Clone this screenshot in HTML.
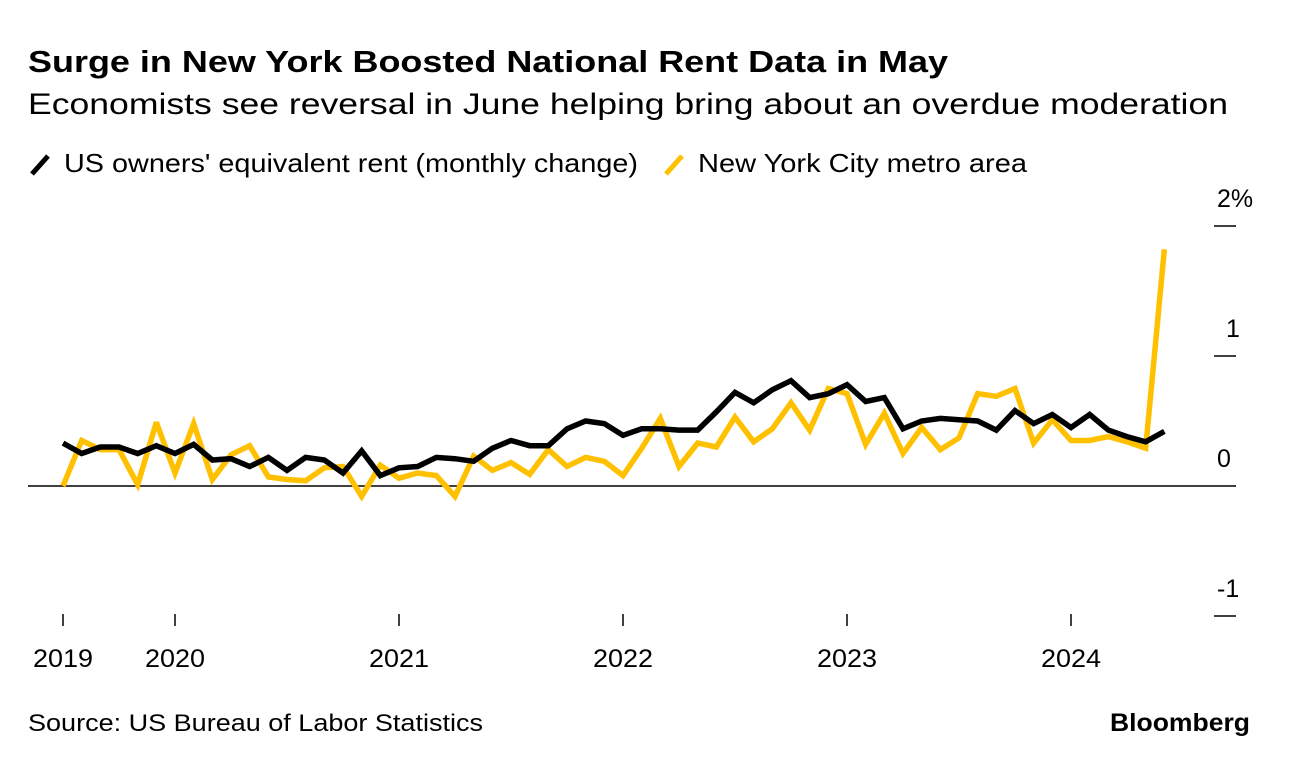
<!DOCTYPE html>
<html><head><meta charset="utf-8"><style>
body{margin:0;background:#fff;font-family:"Liberation Sans",sans-serif;}
svg text{font-family:"Liberation Sans",sans-serif;}
</style></head><body>
<svg width="1289" height="766" viewBox="0 0 1289 766">
<text x="28" y="72" font-size="31" font-weight="bold" fill="#000" textLength="920" lengthAdjust="spacingAndGlyphs">Surge in New York Boosted National Rent Data in May</text>
<text x="28" y="114" font-size="30" fill="#000" textLength="1200" lengthAdjust="spacingAndGlyphs">Economists see reversal in June helping bring about an overdue moderation</text>
<g>
<line x1="32" y1="174" x2="48" y2="156" stroke="#000" stroke-width="5"/>
<text x="64" y="172" font-size="26" textLength="574" lengthAdjust="spacingAndGlyphs">US owners' equivalent rent (monthly change)</text>
<line x1="666" y1="174" x2="682" y2="156" stroke="#ffc000" stroke-width="5"/>
<text x="698" y="172" font-size="26" textLength="329" lengthAdjust="spacingAndGlyphs">New York City metro area</text>
</g>
<g id="axes"></g>
<g id="series"></g>
<text x="28" y="731" font-size="24" textLength="455" lengthAdjust="spacingAndGlyphs">Source: US Bureau of Labor Statistics</text>
<text x="1250" y="731" font-size="25" font-weight="bold" text-anchor="end" textLength="140" lengthAdjust="spacingAndGlyphs">Bloomberg</text>
</svg>
<script>
const usOER=[0.33,0.25,0.30,0.30,0.25,0.31,0.25,0.32,0.20,0.21,0.15,0.22,0.12,0.22,0.20,0.10,0.27,0.08,0.14,0.15,0.22,0.21,0.19,0.29,0.35,0.31,0.31,0.44,0.50,0.48,0.39,0.44,0.44,0.43,0.43,0.57,0.72,0.64,0.74,0.81,0.68,0.71,0.78,0.65,0.68,0.44,0.50,0.52,0.51,0.50,0.43,0.58,0.48,0.55,0.45,0.55,0.43,0.38,0.34,0.42];
const nycMetro=[0.0,0.35,0.28,0.28,0.01,0.49,0.10,0.48,0.05,0.24,0.31,0.07,0.05,0.04,0.14,0.15,-0.08,0.16,0.06,0.10,0.08,-0.08,0.23,0.12,0.18,0.09,0.28,0.15,0.22,0.19,0.08,0.29,0.52,0.15,0.33,0.30,0.53,0.34,0.44,0.64,0.43,0.75,0.71,0.32,0.56,0.25,0.45,0.28,0.37,0.71,0.69,0.75,0.33,0.51,0.35,0.35,0.38,0.34,0.29,1.82];
const yTicks=[2,1,0,-1];
const yTickLabels=["2%","1","0","-1"];
const xTickIdx=[0,6,18,30,42,54];
const xTickLabels=["2019","2020","2021","2022","2023","2024"];
const NS="http://www.w3.org/2000/svg";
const xs=i=>63+i*(1072-176)/48;
const ys=v=>486-v*130;
const axes=document.getElementById('axes'),series=document.getElementById('series');
function mk(tag,attrs,parent){const e=document.createElementNS(NS,tag);for(const k in attrs)e.setAttribute(k,attrs[k]);parent.appendChild(e);return e;}
yTicks.forEach((v,i)=>{
 const t=mk('line',{x1:1214,x2:1236,y1:ys(v),y2:ys(v),stroke:'#000','stroke-width':1.5},axes);
 
 
 const l=mk('text',{x:yTickLabels[i]==="1"?1226:1217,y:ys(v)-19,'font-size':25},axes);
 l.textContent=yTickLabels[i];
 
 
});
const z=mk('line',{x1:28,x2:1214,y1:ys(0),y2:ys(0),stroke:'#000','stroke-width':1.5},axes);


xTickIdx.forEach((ix,i)=>{
 const x=xs(ix);
 const t=mk('line',{x1:x,x2:x,y1:614,y2:626,stroke:'#000','stroke-width':1.5},axes);
 
 
 const l=mk('text',{x:x,y:667,'font-size':25,'text-anchor':'middle',textLength:60,lengthAdjust:'spacingAndGlyphs'},axes);
 l.textContent=xTickLabels[i];
 
 
});
function line(data,color,name){
 const p=mk('polyline',{points:data.map((v,i)=>xs(i)+','+ys(v)).join(' '),fill:'none',stroke:color,'stroke-width':5.5,'stroke-linejoin':'miter','stroke-miterlimit':3},series);
 
 
}
line(nycMetro,'#ffc000','nyc-metro-line');
line(usOER,'#000','us-oer-line');
</script>
</body></html>
